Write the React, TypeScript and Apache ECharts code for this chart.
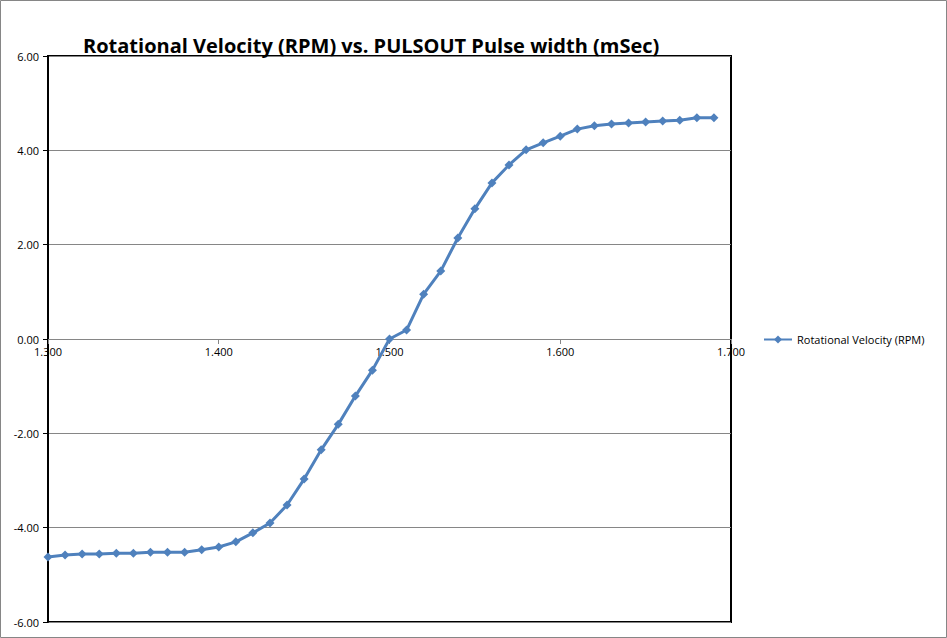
import React, { useEffect, useRef } from "react";
import * as echarts from "echarts";

const pulseWidths = [
  1.3, 1.31, 1.32, 1.33, 1.34, 1.35, 1.36, 1.37, 1.38, 1.39,
  1.4, 1.41, 1.42, 1.43, 1.44, 1.45, 1.46, 1.47, 1.48, 1.49,
  1.5, 1.51, 1.52, 1.53, 1.54, 1.55, 1.56, 1.57, 1.58, 1.59,
  1.6, 1.61, 1.62, 1.63, 1.64, 1.65, 1.66, 1.67, 1.68, 1.69,
];
const rpmValues = [
  -4.62, -4.58, -4.56, -4.56, -4.54, -4.54, -4.52, -4.52, -4.52, -4.47,
  -4.41, -4.3, -4.11, -3.9, -3.52, -2.97, -2.35, -1.81, -1.21, -0.66,
  0.0, 0.19, 0.95, 1.44, 2.14, 2.76, 3.31, 3.69, 4.01, 4.16,
  4.3, 4.45, 4.52, 4.56, 4.58, 4.6, 4.62, 4.64, 4.69, 4.69,
];
const seriesName = "Rotational Velocity (RPM)";
const titleText = "Rotational Velocity (RPM) vs. PULSOUT Pulse width (mSec)";

export default function App() {
  const ref = useRef<HTMLDivElement>(null);
  useEffect(() => {
    if (!ref.current) return;
    const chart = echarts.init(ref.current, undefined, { renderer: "svg" });
    const data = pulseWidths.map((x, i) => [x, rpmValues[i]]);
    chart.setOption({
      animation: false,
      backgroundColor: "#fff",
      textStyle: { fontFamily: "Open Sans" },
      title: {
        text: titleText,
        left: 78,
        top: 30,
        textStyle: { fontSize: 20, fontWeight: "bold", color: "#000", fontFamily: "Open Sans" },
      },
      graphic: [
        {
          type: "rect",
          shape: { x: 0.5, y: 0.5, width: 946, height: 637 },
          style: { fill: "none", stroke: "#868686", lineWidth: 1 },
          silent: true,
        },
      ],
      legend: {
        left: 758,
        top: 329,
        itemWidth: 28,
        itemHeight: 10,
        itemGap: 4,
        textStyle: { fontSize: 11, color: "#000", fontFamily: "Open Sans" },
        data: [seriesName],
      },
      grid: {
        left: 48,
        top: 56,
        right: 216,
        bottom: 16,
        show: true,
        borderColor: "#000",
        borderWidth: 2,
        backgroundColor: "transparent",
      },
      xAxis: {
        type: "value",
        min: 1.3,
        max: 1.7,
        interval: 0.1,
        offset: -283,
        axisLine: { onZero: false, lineStyle: { color: "#868686", width: 1 } },
        axisTick: { show: true, inside: false, length: 5, lineStyle: { color: "#868686" } },
        axisLabel: {
          color: "#000",
          fontSize: 11,
          margin: 7,
          formatter: (v: number) => v.toFixed(3),
        },
        splitLine: { show: false },
      },
      yAxis: {
        type: "value",
        min: -6,
        max: 6,
        interval: 2,
        axisLine: { show: true, lineStyle: { color: "#000", width: 2 } },
        axisTick: { show: true, inside: false, length: 5, lineStyle: { color: "#000" } },
        axisLabel: {
          color: "#000",
          fontSize: 11,
          margin: 9,
          formatter: (v: number) => v.toFixed(2),
        },
        splitLine: { show: true, lineStyle: { color: "#868686", width: 1 } },
      },
      series: [
        {
          name: seriesName,
          type: "line",
          data,
          symbol: "diamond",
          symbolSize: 9,
          itemStyle: { color: "#4F81BD" },
          lineStyle: { color: "#4F81BD", width: 3 },
        },
      ],
    });
    return () => chart.dispose();
  }, []);
  return (
    <div
      ref={ref}
      style={{ position: "absolute", left: 0, top: 0, width: 947, height: 638 }}
    />
  );
}
